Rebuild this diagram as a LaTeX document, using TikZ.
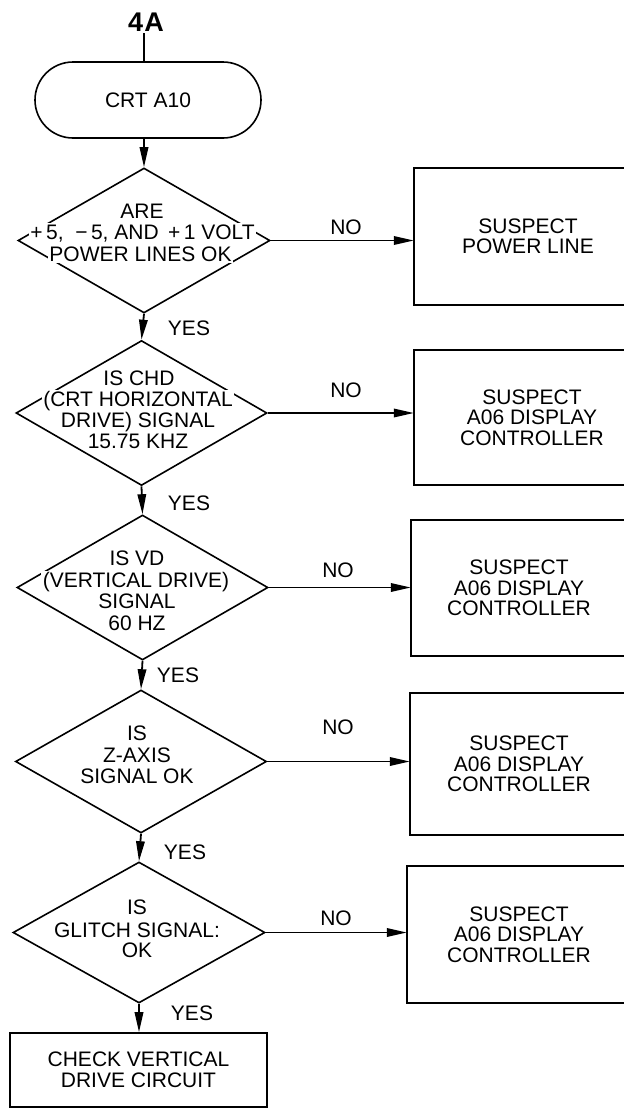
\documentclass[tikz,border=0pt]{standalone}
\usepackage{fontspec}
\setmainfont{Liberation Sans}
\usetikzlibrary{shapes.geometric,arrows.meta}
\begin{document}
\begin{tikzpicture}[x=1pt,y=-1pt,
  every node/.style={font=\fontsize{21pt}{21.5pt}\selectfont},
  ln/.style={line width=1.6pt},
  dec/.style={draw, shape=diamond, line width=1.6pt, minimum width=252pt, minimum height=145pt, inner sep=0pt},
  dline/.style={fill=white, inner xsep=1.5pt, inner ysep=1pt, text height=15.5pt, text depth=1pt},
  sbox/.style={align=center, minimum height=137pt, font=\fontsize{21pt}{20.5pt}\selectfont},
  flowarr/.style={line width=1.8pt, -{Triangle[length=20pt,width=8.5pt]}},
  lab/.style={inner sep=0pt},
]
\useasboundingbox (0,0) rectangle (624,1109);
\clip (0,0) rectangle (624,1109);

% start
\node[font=\fontsize{27pt}{27pt}\selectfont\bfseries, inner sep=2pt] (t4a) at (146,22) {4\kern1pt A};
\node[draw, line width=1.6pt, rounded corners=38pt, minimum width=226pt, minimum height=76pt] (term) at (148,100) {CRT A10};

% decisions
\node[dec] (d1) at (144,240.5) {};
\node[dec, minimum width=251pt] (d2) at (141.5,413) {};
\node[dec, minimum width=251pt] (d3) at (142.5,587.5) {};
\node[dec, minimum width=251pt, minimum height=143pt] (d4) at (141,761.5) {};
\node[dec, minimum height=141pt] (d5) at (139,932.5) {};

% decision texts
\node[dline] (d1a) at (142,211) {ARE};
\node[dline] (d1b) at (142.5,232.5) {+\,5, \ −\,5, AND \,+\,1 VOLT};
\node[dline] (d1c) at (140.5,254) {POWER LINES OK};

\node[dline] (d2a) at (139,378) {IS CHD};
\node[dline] (d2b) at (138,399) {(CRT HORIZONTAL};
\node[dline] (d2c) at (138,420) {DRIVE) SIGNAL};
\node[dline] (d2d) at (138,441) {15.75 KHZ};

\node[dline] (d3a) at (137,558) {IS VD};
\node[dline] (d3b) at (136,580) {(VERTICAL DRIVE)};
\node[dline] (d3c) at (137,601.5) {SIGNAL};
\node[dline] (d3d) at (137,623) {60 HZ};

\node[dline] (d4a) at (137,733) {IS};
\node[dline] (d4b) at (137,755) {Z-AXIS};
\node[dline] (d4c) at (137,776) {SIGNAL OK};

\node[dline] (d5a) at (137,907) {IS};
\node[dline] (d5b) at (137,930) {GLITCH SIGNAL:};
\node[dline] (d5c) at (137,950) {OK};

% right boxes (open to the right, cut by the page edge)
\node[sbox, minimum width=228pt] (b1) at (528,236.5) {SUSPECT\\POWER LINE};
\node[sbox, minimum width=236pt, minimum height=135pt] (b2) at (532,417.5) {SUSPECT\\A06 DISPLAY\\CONTROLLER};
\node[sbox, minimum width=216pt, minimum height=136pt] (b3) at (519,588) {SUSPECT\\A06 DISPLAY\\CONTROLLER};
\node[sbox, minimum width=218pt, minimum height=142pt] (b4) at (519,764) {SUSPECT\\A06 DISPLAY\\CONTROLLER};
\node[sbox, minimum width=224pt] (b5) at (519,934.5) {SUSPECT\\A06 DISPLAY\\CONTROLLER};
\foreach \b in {b1,b2,b3,b4,b5}{
  \draw[ln] (\b.north east) ++(80,0) -- (\b.north west) -- (\b.south west) -- ++(320,0);
}

% final box
\node[sbox, draw, line width=1.6pt, minimum width=257pt, minimum height=74pt] (fin) at (138.5,1070) {CHECK VERTICAL\\DRIVE CIRCUIT};

% vertical connectors
\draw[ln] (d1.north |- t4a.south) -- (d1.north |- term.north);
\draw[flowarr] (d1.north |- term.south) -- (d1.north);
\draw[flowarr] (d1.south) -- (d2.north);
\draw[flowarr] (d2.south) -- (d3.north);
\draw[flowarr] (d3.south) -- (d4.north);
\draw[flowarr] (d4.south) -- (d5.north);
\draw[flowarr] (d5.south) -- (d5.south |- fin.north);

% horizontal connectors
\draw[flowarr] (d1.east) -- (d1.east -| b1.west);
\draw[flowarr] (d2.east) -- (d2.east -| b2.west);
\draw[flowarr] (d3.east) -- (d3.east -| b3.west);
\draw[flowarr] (d4.east) -- (d4.east -| b4.west);
\draw[flowarr] (d5.east) -- (d5.east -| b5.west);

% labels
\node[lab] (y1) at (189,328) {YES};
\node[lab] (y2) at (189,503) {YES};
\node[lab] (y3) at (178,675) {YES};
\node[lab] (y4) at (185,852) {YES};
\node[lab] (y5) at (192,1013) {YES};
\node[lab] (n1) at (346,227) {NO};
\node[lab] (n2) at (346,390) {NO};
\node[lab] (n3) at (338,570) {NO};
\node[lab] (n4) at (338,727) {NO};
\node[lab] (n5) at (336,918) {NO};
\end{tikzpicture}
\end{document}
